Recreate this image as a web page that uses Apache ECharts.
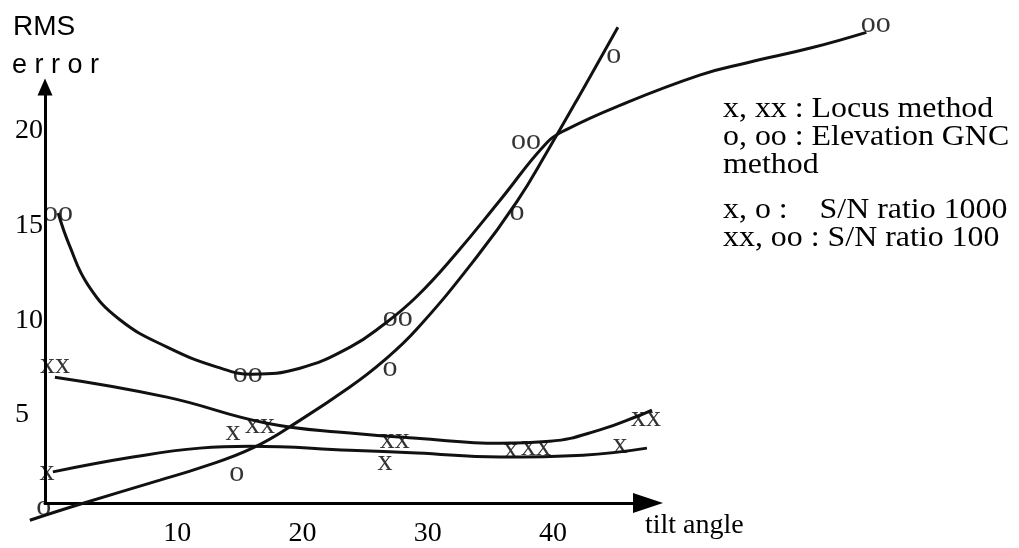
<!DOCTYPE html>
<html>
<head>
<meta charset="utf-8">
<script src="https://cdn.jsdelivr.net/npm/echarts@6/dist/echarts.min.js"></script>
<style>
  html, body { margin: 0; padding: 0; background: #fff; }
  #chart { width: 1019px; height: 548px; }
</style>
</head>
<body>
<div id="chart"></div>
<script>
// tick labels
var xTicks = [10, 20, 30, 40];
var yTicks = [5, 10, 15, 20];

// fitted curves [tilt angle, RMS error]
var curveOO = [[0.5, 15.7], [1.4, 14.0], [2.9, 11.9], [5.4, 10.1], [9.2, 8.65], [13.2, 7.6], [16.0, 7.23],
  [19.8, 7.54], [23.8, 8.65], [26.4, 9.8], [29.1, 11.3], [32.3, 13.6], [35.8, 16.4], [39.5, 19.4],
  [41.1, 20.1], [45.1, 21.3], [51.7, 22.95], [55.5, 23.6], [60.7, 24.4], [65.0, 25.2]];
var curveO = [[-1.76, -0.45], [2.23, 0.39], [8.62, 1.66], [11.81, 2.3], [16.04, 3.35], [19.79, 4.8],
  [23.78, 6.55], [26.42, 7.9], [29.13, 9.6], [33.92, 13.4], [37.11, 16.3], [39.5, 18.9],
  [42.38, 22.2], [45.17, 25.47]];
var curveXX = [[0.24, 7.07], [9.18, 6.02], [17.16, 4.65], [23.78, 4.13], [29.13, 3.86], [35.75, 3.6],
  [39.74, 3.7], [43.73, 4.3], [46.93, 5.07], [47.89, 5.34]];
var curveX = [[0.08, 2.09], [6.46, 2.87], [11.81, 3.34], [15.8, 3.44], [23.78, 3.23], [29.13, 3.08],
  [35.75, 2.87], [42.38, 2.97], [47.49, 3.34]];

// measured points
var oPts = [[-0.64, 0.24], [14.76, 2.02], [26.98, 7.54], [37.11, 15.75], [44.85, 24.0]];
var ooPts = [[0.48, 15.69], [15.64, 7.23], [27.61, 10.17], [37.83, 19.48], [65.76, 25.63]];
var xPts = [[-0.4, 2.08], [14.45, 4.18], [26.58, 2.6], [36.63, 3.23], [45.33, 3.5]];
var xxPts = [[0.24, 7.7], [16.6, 4.55], [27.37, 3.76], [38.63, 3.39], [47.41, 4.92]];

var legendTop = ['x, xx : Locus method', 'o, oo : Elevation GNC', 'method'];
var legendBottom = ['x, o :    S/N ratio 1000', 'xx, oo : S/N ratio 100'];

var serif = '"Liberation Serif", "Times New Roman", serif';
var sans = '"Liberation Sans", Arial, sans-serif';

// axis grid (visible axes) and a larger data grid on the same scale,
// since the curves run past the drawn axes
var gridLeft = 45, gridTop = 87, gridW = 603, gridH = 418;
var xMin = -0.55, yMin = 0.35;
var xUnit = 12.53, yUnit = 19.02;
var padL = 20, padB = 20;
var dataW = 875, dataH = 515;
var xMin1 = xMin - padL / xUnit, yMin1 = yMin - padB / yUnit;

function makeLine(data) {
  return {
    type: 'line',
    xAxisIndex: 1,
    yAxisIndex: 1,
    data: data,
    smooth: 0.45,
    symbol: 'none',
    clip: false,
    lineStyle: { color: '#111', width: 3 }
  };
}

function makeMarks(data, glyph) {
  return {
    type: 'scatter',
    xAxisIndex: 1,
    yAxisIndex: 1,
    data: data,
    symbolSize: 1,
    clip: false,
    itemStyle: { color: 'rgba(0,0,0,0)' },
    label: {
      show: true,
      position: 'inside',
      formatter: function () { return glyph; },
      fontFamily: serif,
      fontSize: 30,
      color: '#000'
    }
  };
}

var chart = echarts.init(document.getElementById('chart'));
var option = {
  animation: false,
  backgroundColor: '#fff',
  grid: [
    { left: gridLeft, top: gridTop, width: gridW, height: gridH },
    { left: gridLeft - padL, top: gridTop + gridH + padB - dataH, width: dataW, height: dataH }
  ],
  xAxis: [{
    type: 'value',
    gridIndex: 0,
    min: xMin,
    max: xMin + gridW / xUnit,
    axisLine: {
      show: true, onZero: false,
      symbol: ['none', 'triangle'], symbolSize: [20, 30],
      lineStyle: { color: '#000', width: 3 }
    },
    axisTick: { show: false },
    splitLine: { show: false },
    axisLabel: {
      customValues: xTicks,
      margin: 17,
      fontFamily: serif, fontSize: 28, color: '#000'
    }
  }, {
    type: 'value',
    gridIndex: 1,
    show: false,
    min: xMin1,
    max: xMin1 + dataW / xUnit
  }],
  yAxis: [{
    type: 'value',
    gridIndex: 0,
    min: yMin,
    max: yMin + gridH / yUnit,
    axisLine: {
      show: true, onZero: false,
      symbol: ['none', 'triangle'], symbolSize: [15, 17],
      lineStyle: { color: '#000', width: 3 }
    },
    axisTick: { show: false },
    splitLine: { show: false },
    axisLabel: {
      customValues: yTicks,
      align: 'left',
      margin: 30,
      fontFamily: serif, fontSize: 28, color: '#000'
    }
  }, {
    type: 'value',
    gridIndex: 1,
    show: false,
    min: yMin1,
    max: yMin1 + dataH / yUnit
  }],
  graphic: [
    { type: 'text', x: 13, y: 27, style: { text: 'RMS', font: '28px ' + sans, fill: '#000', textVerticalAlign: 'middle' } },
    { type: 'text', x: 12, y: 66, style: { text: 'e r r o r', font: '27px ' + sans, fill: '#000', textVerticalAlign: 'middle' } },
    { type: 'text', x: 645, y: 526, style: { text: 'tilt angle', font: '28px ' + serif, fill: '#000', textVerticalAlign: 'middle' } },
    { type: 'text', x: 723, y: 95, scaleX: 1.1, style: { text: legendTop.join('\n'), font: '29px ' + serif, lineHeight: 28, fill: '#000', textVerticalAlign: 'top' } },
    { type: 'text', x: 723, y: 196, scaleX: 1.1, style: { text: legendBottom.join('\n'), font: '29px ' + serif, lineHeight: 28, fill: '#000', textVerticalAlign: 'top' } }
  ],
  series: [
    makeLine(curveOO),
    makeLine(curveO),
    makeLine(curveXX),
    makeLine(curveX),
    makeMarks(oPts, 'o'),
    makeMarks(ooPts, 'oo'),
    makeMarks(xPts, 'x'),
    makeMarks(xxPts, 'xx')
  ]
};
chart.setOption(option);
</script>
</body>
</html>
